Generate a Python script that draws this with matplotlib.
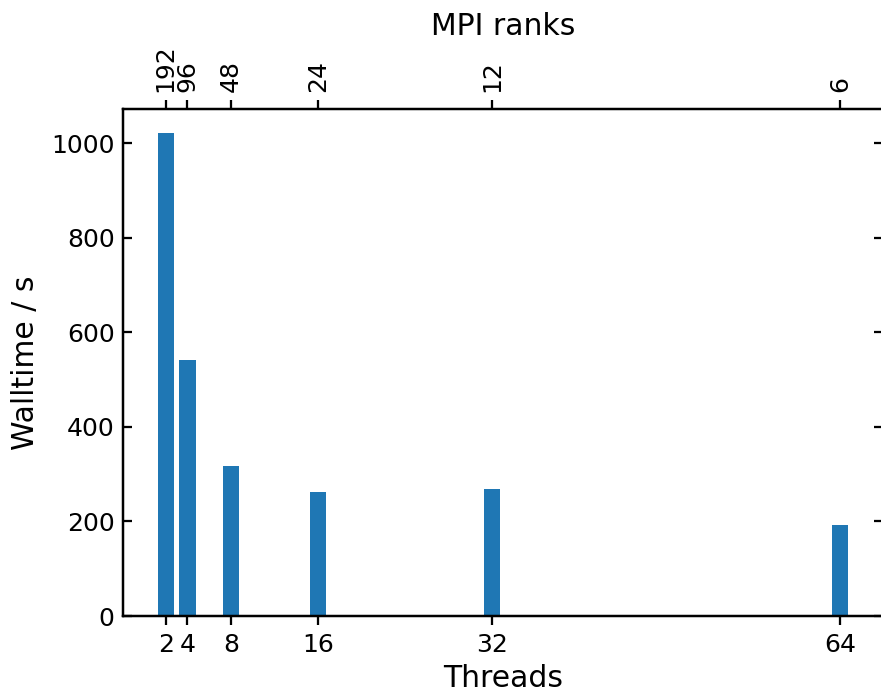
import matplotlib
matplotlib.use("Agg")
import matplotlib.pyplot as plt

threads = [2, 4, 8, 16, 32, 64]
mpi_ranks = ["192", "96", "48", "24", "12", "6"]
walltime = [1021, 541, 318, 262, 269, 193]

dpi = 171
plt.rcParams["font.size"] = 10.5
plt.rcParams["axes.linewidth"] = 0.95
plt.rcParams["xtick.major.width"] = 0.95
plt.rcParams["ytick.major.width"] = 0.95
plt.rcParams["xtick.major.size"] = 3.7
plt.rcParams["ytick.major.size"] = 3.7

fig = plt.figure(figsize=(881 / dpi, 693 / dpi), dpi=dpi)
W, H = 881, 693
ax = fig.add_axes([123 / W, (H - 616) / H, (883 - 123) / W, (616 - 109) / H])

ax.bar(threads, walltime, width=1.5, color="#1f77b4")
ax.set_xticks(threads)
ax.set_xticklabels([str(t) for t in threads])
ax.set_xlabel("Threads", fontsize=12.6, labelpad=3)
ax.set_ylabel("Walltime / s", fontsize=12.6, labelpad=4.5)
ax.tick_params(axis="y", direction="in", right=True)
ax.set_ylim(0, None)

ax2 = ax.twiny()
ax2.set_xlim(ax.get_xlim())
ax2.set_xticks(threads)
ax2.set_xticklabels(mpi_ranks, rotation=90)
ax2.set_xlabel("MPI ranks", fontsize=12.6)

fig.savefig("out.png", dpi=dpi)
